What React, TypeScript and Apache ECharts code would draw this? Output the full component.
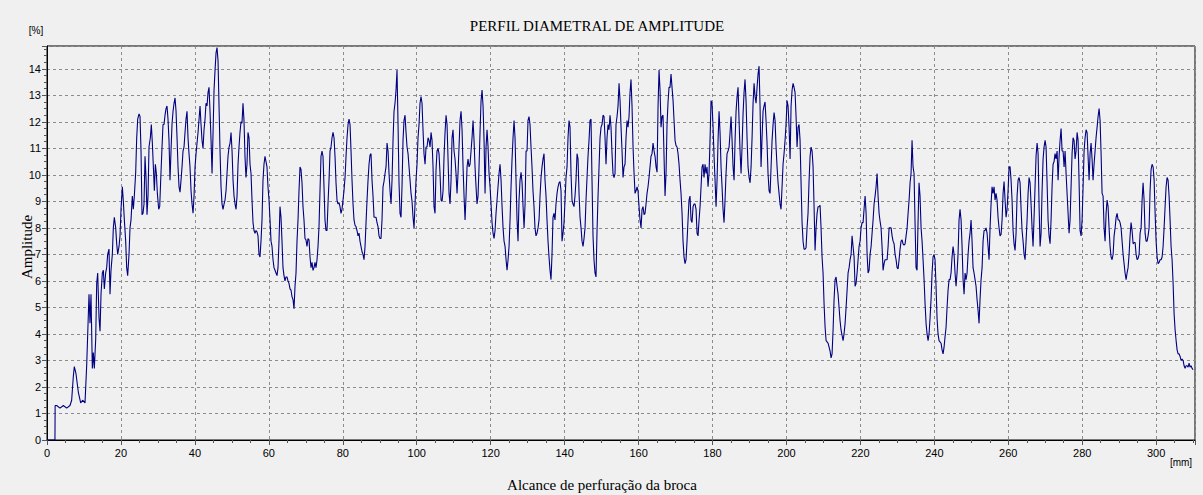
import React, { useEffect, useRef } from "react";
import * as echarts from "echarts";

const CHART_TITLE = "PERFIL DIAMETRAL DE AMPLITUDE";
const Y_TITLE = "Amplitude";
const X_TITLE = "Alcance de perfuração da broca";
const Y_UNIT = "[%]";
const X_UNIT = "[mm]";

const X_MIN = 0;
const X_MAX = 310.5;
const X_STEP = 20;
const Y_MIN = 0;
const Y_MAX = 14.86;
const Y_STEP = 1;

// distance along the bore [mm]
const distanceMm: number[] = [
  0, 2.15, 2.2, 2.61, 3.52, 4.42, 5.32, 6.22, 6.67, 7.12, 7.39, 7.84, 8.48, 9.11, 9.65, 10.28, 10.73, 11.36, 11.63, 11.9,
  12.26, 12.53, 12.8, 13.17, 13.44, 13.71, 14.07, 14.34, 14.61, 14.97, 15.24, 15.51, 15.87, 16.14, 16.41, 16.77, 17.04,
  17.31, 17.67, 17.94, 18.21, 18.58, 18.85, 19.12, 19.48, 19.75, 20.02, 20.38, 20.65, 20.92, 21.28, 21.55, 21.82, 22.18,
  22.45, 22.72, 23.08, 23.35, 23.62, 23.99, 24.26, 24.53, 24.89, 25.16, 25.43, 25.7,
  25.97, 26.24, 26.51, 26.78, 27.05, 27.32, 27.59, 27.95, 28.22, 28.49, 28.77, 29.04, 29.31, 29.58, 29.85, 30.21, 30.48,
  30.75, 31.11, 31.38, 31.65, 31.92, 32.19, 32.46, 32.73, 33.0, 33.27, 33.54, 33.81, 34.09, 34.36, 34.63, 34.9, 35.17,
  35.44, 35.71, 35.98, 36.25, 36.52, 36.79, 37.06, 37.33, 37.6, 37.87, 38.14, 38.41, 38.68, 38.96, 39.23, 39.5, 39.77,
  40.04, 40.31, 40.58, 40.85, 41.12, 41.39, 41.66, 41.93, 42.2, 42.47, 42.74, 43.01, 43.28, 43.55, 43.82, 44.09, 44.37,
  44.64, 44.91, 45.18, 45.45, 45.72, 45.99, 46.26, 46.53, 46.8, 47.07, 47.34, 47.61, 47.88, 48.15, 48.42, 48.69, 48.96,
  49.24, 49.51, 49.78, 50.05, 50.32, 50.59, 50.86, 51.13, 51.4, 51.67,
  51.93, 52.2, 52.47, 52.74, 53.01, 53.28, 53.55, 53.82, 54.09, 54.36, 54.64, 54.91, 55.18, 55.45, 55.72, 55.99, 56.26,
  56.53, 56.8, 57.07, 57.34, 57.61, 57.88, 58.15, 58.42, 58.69, 58.96, 59.23, 59.5, 59.77, 60.05, 60.32, 60.59, 60.86,
  61.13, 61.4, 61.67, 61.94, 62.21, 62.48, 62.75, 63.02, 63.29, 63.56, 63.83, 64.1, 64.37, 64.64, 64.91, 65.18, 65.46,
  65.73, 66.0, 66.27, 66.54, 66.81, 67.08, 67.35, 67.62, 67.89, 68.16, 68.43, 68.7, 68.97, 69.24, 69.51, 69.78, 70.05,
  70.32, 70.59, 70.87, 71.14, 71.41, 71.68, 71.95, 72.22, 72.49, 72.76, 73.03, 73.3, 73.57, 73.84, 74.11, 74.38, 74.65,
  74.92, 75.19, 75.46, 75.73, 76.0, 76.28, 76.55, 76.82, 77.09, 77.36, 77.63,
  77.9, 78.17, 78.44, 78.71, 78.98, 79.25, 79.52, 79.79, 80.06, 80.33, 80.61, 80.88, 81.15, 81.42, 81.69, 81.96, 82.23,
  82.5, 82.77, 83.04, 83.31, 83.58, 83.85, 84.12, 84.39, 84.66, 84.93, 85.2, 85.47, 85.74, 86.02, 86.29, 86.56, 86.83,
  87.1, 87.37, 87.64, 87.91, 88.18, 88.45, 88.72, 88.99, 89.26, 89.53, 89.8, 90.07, 90.34, 90.61, 90.88, 91.15, 91.43,
  91.7, 91.97, 92.24, 92.51, 92.78, 93.05, 93.32, 93.59, 93.86, 94.13, 94.4, 94.67, 94.94, 95.21, 95.48, 95.75, 96.02,
  96.29, 96.56, 96.84, 97.11, 97.38, 97.65, 97.92, 98.19, 98.46, 98.73, 99.0, 99.27, 99.54, 99.81, 100.08, 100.35,
  100.62, 100.89, 101.16, 101.43, 101.7, 101.97, 102.25, 102.52, 102.79, 103.06, 103.33, 103.6,
  103.87, 104.14, 104.41, 104.68, 104.95, 105.22, 105.49, 105.76, 106.03, 106.3, 106.58, 106.85, 107.12, 107.39, 107.66,
  107.93, 108.2, 108.47, 108.74, 109.01, 109.28, 109.55, 109.82, 110.09, 110.36, 110.63, 110.9, 111.17, 111.44, 111.71,
  111.99, 112.26, 112.53, 112.8, 113.07, 113.34, 113.61, 113.88, 114.15, 114.42, 114.69, 114.96, 115.23, 115.5, 115.77,
  116.04, 116.31, 116.58, 116.85, 117.12, 117.4, 117.67, 117.94, 118.21, 118.48, 118.75, 119.02, 119.29, 119.56, 119.83,
  120.1, 120.37, 120.64, 120.91, 121.18, 121.45, 121.72, 121.99, 122.26, 122.53, 122.81, 123.08, 123.35, 123.62, 123.89,
  124.16, 124.43, 124.7, 124.97, 125.24, 125.51, 125.78, 126.05, 126.32, 126.59, 126.86, 127.13, 127.4, 127.67, 127.94,
  128.22, 128.49, 128.76, 129.03, 129.3, 129.57,
  129.83, 130.1, 130.37, 130.64, 130.91, 131.18, 131.45, 131.72, 131.99, 132.26, 132.54, 132.81, 133.08, 133.35, 133.62,
  133.89, 134.16, 134.43, 134.7, 134.97, 135.24, 135.51, 135.78, 136.05, 136.32, 136.59, 136.86, 137.13, 137.4, 137.67,
  137.95, 138.22, 138.49, 138.76, 139.03, 139.3, 139.57, 139.84, 140.11, 140.38, 140.65, 140.92, 141.19, 141.46, 141.73,
  142.0, 142.27, 142.54, 142.81, 143.08, 143.36, 143.63, 143.9, 144.17, 144.44, 144.71, 144.98, 145.25, 145.52, 145.79,
  146.06, 146.33, 146.6, 146.87, 147.14, 147.41, 147.68, 147.95, 148.22, 148.49, 148.77, 149.04, 149.31, 149.58, 149.85,
  150.12, 150.39, 150.66, 150.93, 151.2, 151.47, 151.74, 152.01, 152.28, 152.55, 152.82, 153.09, 153.36, 153.63, 153.9,
  154.18, 154.45, 154.72, 154.99, 155.26, 155.53,
  155.8, 156.07, 156.34, 156.61, 156.88, 157.15, 157.42, 157.69, 157.96, 158.23, 158.51, 158.78, 159.05, 159.32, 159.59,
  159.86, 160.13, 160.4, 160.67, 160.94, 161.21, 161.48, 161.75, 162.02, 162.29, 162.56, 162.83, 163.1, 163.37, 163.64,
  163.92, 164.19, 164.46, 164.73, 165.0, 165.27, 165.54, 165.81, 166.08, 166.35, 166.62, 166.89, 167.16, 167.43, 167.7,
  167.97, 168.24, 168.51, 168.78, 169.05, 169.33, 169.6, 169.87, 170.14, 170.41, 170.68, 170.95, 171.22, 171.49, 171.76,
  172.03, 172.3, 172.57, 172.84, 173.11, 173.38, 173.65, 173.92, 174.19, 174.46, 174.74, 175.01, 175.28, 175.55, 175.82,
  176.09, 176.36, 176.63, 176.9, 177.17, 177.44, 177.71, 177.98, 178.25, 178.52, 178.79, 179.06, 179.33, 179.6, 179.87,
  180.15, 180.42, 180.69, 180.96, 181.23, 181.5,
  181.77, 182.04, 182.31, 182.58, 182.85, 183.12, 183.39, 183.66, 183.93, 184.2, 184.48, 184.75, 185.02, 185.29, 185.56,
  185.83, 186.1, 186.37, 186.64, 186.91, 187.18, 187.45, 187.72, 187.99, 188.26, 188.53, 188.8, 189.07, 189.34, 189.61,
  189.89, 190.16, 190.43, 190.7, 190.97, 191.24, 191.51, 191.78, 192.05, 192.32, 192.59, 192.86, 193.13, 193.4, 193.67,
  193.94, 194.21, 194.48, 194.75, 195.02, 195.3, 195.57, 195.84, 196.11, 196.38, 196.65, 196.92, 197.19, 197.46, 197.73,
  198.0, 198.27, 198.54, 198.81, 199.08, 199.35, 199.62, 199.89, 200.16, 200.43, 200.71, 200.98, 201.25, 201.52, 201.79,
  202.06, 202.33, 202.6, 202.87, 203.14, 203.41, 203.68, 203.95, 204.22, 204.49, 204.76, 205.03, 205.3, 205.57, 205.84,
  206.12, 206.39, 206.66, 206.93, 207.2, 207.47,
  207.74, 208.01, 208.28, 208.55, 208.82, 209.09, 209.36, 209.63, 209.9, 210.17, 210.45, 210.72, 210.99, 211.26, 211.53,
  211.8, 212.07, 212.34, 212.61, 212.88, 213.15, 213.42, 213.69, 213.96, 214.23, 214.5, 214.77, 215.04, 215.31, 215.58,
  215.86, 216.13, 216.4, 216.67, 216.94, 217.21, 217.48, 217.75, 218.02, 218.29, 218.56, 218.83, 219.1, 219.37, 219.64,
  219.91, 220.18, 220.45, 220.72, 220.99, 221.27, 221.54, 221.81, 222.08, 222.35, 222.62, 222.89, 223.16, 223.43, 223.7,
  223.97, 224.24, 224.51, 224.78, 225.05, 225.32, 225.59, 225.86, 226.13, 226.4, 226.68, 226.95, 227.22, 227.49, 227.76,
  228.03, 228.3, 228.57, 228.84, 229.11, 229.38, 229.65, 229.92, 230.19, 230.46, 230.73, 231.0, 231.27, 231.54, 231.81,
  232.09, 232.36, 232.63, 232.9, 233.17, 233.44,
  233.7, 233.97, 234.24, 234.51, 234.78, 235.05, 235.32, 235.59, 235.86, 236.13, 236.41, 236.68, 236.95, 237.22, 237.49,
  237.76, 238.03, 238.3, 238.57, 238.84, 239.11, 239.38, 239.65, 239.92, 240.19, 240.46, 240.73, 241.0, 241.27, 241.54,
  241.82, 242.09, 242.36, 242.63, 242.9, 243.17, 243.44, 243.71, 243.98, 244.25, 244.52, 244.79, 245.06, 245.33, 245.6,
  245.87, 246.14, 246.41, 246.68, 246.95, 247.23, 247.5, 247.77, 248.04, 248.31, 248.58, 248.85, 249.12, 249.39, 249.66,
  249.93, 250.2, 250.47, 250.74, 251.01, 251.28, 251.55, 251.82, 252.09, 252.36, 252.64, 252.91, 253.18, 253.45, 253.72,
  253.99, 254.26, 254.53, 254.8, 255.07, 255.34, 255.61, 255.88, 256.15, 256.42, 256.69, 256.96, 257.23, 257.5, 257.77,
  258.05, 258.32, 258.59, 258.86, 259.13, 259.4,
  259.67, 259.94, 260.21, 260.48, 260.75, 261.02, 261.29, 261.56, 261.83, 262.1, 262.38, 262.65, 262.92, 263.19, 263.46,
  263.73, 264.0, 264.27, 264.54, 264.81, 265.08, 265.35, 265.62, 265.89, 266.16, 266.43, 266.7, 266.97, 267.24, 267.51,
  267.79, 268.06, 268.33, 268.6, 268.87, 269.14, 269.41, 269.68, 269.95, 270.22, 270.49, 270.76, 271.03, 271.3, 271.57,
  271.84, 272.11, 272.38, 272.65, 272.92, 273.2, 273.47, 273.74, 274.01, 274.28, 274.55, 274.82, 275.09, 275.36, 275.63,
  275.9, 276.17, 276.44, 276.71, 276.98, 277.25, 277.52, 277.79, 278.06, 278.33, 278.61, 278.88, 279.15, 279.42, 279.69,
  279.96, 280.23, 280.5, 280.77, 281.04, 281.31, 281.58, 281.85, 282.12, 282.39, 282.66, 282.93, 283.2, 283.47, 283.74,
  284.02, 284.29, 284.56, 284.83, 285.1, 285.37,
  285.64, 285.91, 286.18, 286.45, 286.72, 286.99, 287.26, 287.53, 287.8, 288.07, 288.35, 288.62, 288.89, 289.16, 289.43,
  289.7, 289.97, 290.24, 290.51, 290.78, 291.05, 291.32, 291.59, 291.86, 292.13, 292.4, 292.67, 292.94, 293.21, 293.48,
  293.76, 294.03, 294.3, 294.57, 294.84, 295.11, 295.38, 295.65, 295.92, 296.19, 296.46, 296.73, 297.0, 297.27, 297.54,
  297.81, 298.08, 298.35, 298.62, 298.89, 299.17, 299.44, 299.71, 299.98, 300.25, 300.52, 300.79, 301.06, 301.33, 301.6,
  301.87, 302.14, 302.41, 302.68, 302.95, 303.22, 303.49, 303.76, 304.03, 304.3, 304.58, 304.85, 305.12, 305.39, 305.66,
  305.93, 306.2, 306.47, 306.74, 307.01, 307.28, 307.55, 307.82, 308.09, 308.36, 308.63, 308.9, 309.17, 309.44, 309.71,
  309.99,
];

// diametral amplitude [%]
const amplitudePct: number[] = [
  0, 0, 1.3, 1.3, 1.2, 1.3, 1.2, 1.3, 1.5, 2.4, 2.77, 2.5, 1.8, 1.4, 1.5, 1.4, 2.8, 5.5, 4.4, 5.5, 2.7, 3.3, 2.7, 3.8,
  5.9, 6.3, 4.6, 4.1, 5.5, 6.3, 6.4, 5.7, 6.3, 6.5, 7.0, 7.2, 5.5, 6.4, 7.0, 8.0, 8.4, 8.0, 7.4, 7.0, 7.3, 7.7, 8.7,
  9.55, 9.0, 8.3, 7.5, 6.5, 6.2, 7.0, 8.0, 8.3, 9.2, 8.7, 9.2, 10.1, 11.4, 12.1, 12.3, 12.2, 10.9, 8.5,
  8.55, 8.9, 10.7, 9.9, 8.5, 9.2, 11.05, 11.4, 11.9, 11.2, 10.3, 9.4, 10.4, 10.05, 9.3, 8.7, 8.8, 9.8, 11.05, 11.9, 11.9,
  12.25, 12.5, 12.6, 12.1, 11.3, 9.8, 10.9, 11.9, 12.4, 12.7, 12.9, 12.4, 11.4, 10.3, 9.55, 9.35, 9.8, 10.3, 10.9, 11.05,
  11.6, 12.1, 12.4, 11.4, 10.8, 10.3, 9.4, 8.9, 8.55, 9.2, 10.3, 10.8, 11.2, 11.6, 12.1, 12.6, 11.9, 11.3, 11.0, 11.7,
  12.1, 12.7, 12.6, 13.1, 13.3, 12.4, 11.3, 10.05, 11.6, 13.2, 13.95, 14.6, 14.8, 14.3, 12.6, 10.9, 9.55, 8.9, 8.7, 8.9,
  9.05, 9.4, 10.05, 10.7, 11.05, 11.2, 11.6, 10.9, 9.8, 9.2, 8.9, 8.7, 9.2, 10.4,
  11.05, 11.6, 12.0, 11.95, 12.7, 12.05, 10.7, 9.9, 10.4, 11.6, 11.4, 10.4, 10.05, 9.05, 8.2, 7.9, 7.8, 7.9, 7.85, 7.7,
  7.0, 6.9, 7.5, 8.3, 9.8, 10.4, 10.7, 10.5, 10.3, 9.55, 9.05, 8.3, 7.5, 7.3, 6.8, 6.5, 6.4, 6.3, 6.2, 6.5, 7.5, 8.8, 8.4,
  7.5, 6.5, 6.2, 6.0, 6.15, 6.15, 6.0, 5.9, 5.7, 5.65, 5.4, 5.3, 4.95, 5.8, 6.3, 7.5, 8.3, 9.4, 10.3, 10.2, 9.7, 8.8, 8.3,
  7.6, 7.55, 7.3, 7.6, 7.55, 6.9, 6.5, 6.7, 6.4, 6.5, 6.7, 6.5, 6.8, 7.3, 8.05, 9.4, 10.7, 10.9, 10.7, 9.55, 8.3, 7.9,
  7.9, 8.9, 9.8, 10.9, 11.05, 11.4, 11.6, 11.4,
  10.7, 9.7, 9.05, 8.9, 8.95, 8.8, 8.55, 8.7, 9.05, 9.4, 9.9, 10.7, 11.4, 11.9, 12.1, 11.9, 10.9, 9.8, 8.9, 8.3, 8.1,
  8.05, 7.9, 7.7, 7.8, 7.5, 7.3, 7.1, 7.0, 6.8, 7.3, 8.2, 9.05, 9.8, 10.4, 10.75, 10.8, 9.8, 9.2, 8.4, 8.4, 8.4, 8.2, 8.05,
  7.7, 7.6, 7.6, 8.3, 9.55, 9.75, 10.05, 10.3, 11.2, 10.9, 10.05, 9.4, 8.9, 9.8, 11.3, 12.4, 12.7, 13.2, 13.95, 11.95,
  9.7, 8.55, 8.4, 9.55, 11.3, 12.05, 12.25, 11.6, 11.05, 10.8, 10.3, 9.8, 9.3, 9.0, 8.4, 8.0, 8.9, 9.8, 10.4, 11.4, 11.9,
  12.7, 12.95, 12.7, 11.7, 10.8, 10.4, 11.05, 11.05, 11.4, 11.3, 11.05,
  11.6, 11.3, 10.3, 8.8, 8.55, 10.2, 10.9, 11.0, 10.8, 10.05, 9.05, 9.0, 9.4, 10.7, 11.6, 12.25, 11.9, 10.6, 9.3, 8.9,
  9.8, 11.4, 11.7, 10.9, 10.6, 10.05, 9.3, 10.05, 11.05, 12.05, 12.4, 11.7, 10.3, 9.2, 8.3, 9.2, 10.3, 10.6, 10.3, 10.4,
  10.9, 11.4, 12.05, 11.3, 10.3, 9.55, 8.9, 9.2, 10.3, 11.6, 12.8, 13.2, 12.6, 11.3, 9.3, 11.05, 11.7, 11.05, 10.05, 9.55,
  8.9, 8.2, 7.8, 7.6, 7.9, 8.55, 9.05, 9.55, 10.05, 10.4, 9.8, 8.8, 8.0, 7.5, 7.3, 6.8, 6.4, 6.8, 7.3, 8.3, 9.55, 10.6,
  11.4, 12.05, 11.4, 9.8, 8.3, 7.5, 9.05, 9.8, 10.1, 9.7, 8.8, 8.0, 8.9, 10.9,
  10.9, 12.05, 12.2, 11.9, 11.05, 10.3, 9.4, 8.8, 8.0, 7.7, 7.8, 8.0, 8.3, 9.2, 9.9, 10.3, 10.6, 10.8, 9.8, 9.2, 8.3, 7.5,
  6.9, 6.4, 6.05, 7.0, 8.4, 8.55, 8.3, 8.9, 9.3, 9.55, 9.7, 9.75, 9.4, 7.5, 7.8, 8.2, 9.05, 9.9, 10.3, 11.4, 12.05, 11.8,
  10.05, 9.05, 8.9, 8.8, 9.2, 9.8, 10.8, 10.6, 9.3, 8.4, 8.0, 7.5, 7.3, 7.6, 8.0, 9.05, 9.9, 10.7, 11.3, 12.05, 12.1, 9.8,
  7.7, 6.8, 6.3, 6.15, 7.9, 9.2, 10.3, 11.4, 11.8, 11.9, 12.25, 12.2, 11.4, 10.4, 11.4, 11.9, 11.7, 12.25, 11.8, 10.8,
  10.05, 9.9, 10.05, 11.9, 12.2, 12.6, 13.45, 12.8, 11.8, 10.9,
  9.9, 10.3, 10.4, 11.4, 12.05, 11.8, 12.2, 13.1, 13.6, 12.6, 11.05, 10.05, 9.3, 9.4, 9.55, 9.4, 8.8, 8.3, 8.0, 8.7, 8.8,
  8.5, 8.55, 8.9, 9.3, 9.55, 9.9, 10.3, 10.7, 10.8, 11.2, 10.9, 10.7, 10.3, 10.1, 12.6, 13.95, 13.2, 11.8, 12.2, 12.25,
  10.7, 9.2, 10.05, 11.9, 12.75, 13.3, 13.3, 13.8, 13.3, 12.8, 12.05, 11.3, 11.1, 11.05, 10.8, 10.4, 9.8, 9.3, 8.55, 7.5,
  6.9, 6.65, 6.8, 7.5, 8.3, 9.05, 9.2, 8.3, 8.2, 8.8, 8.9, 8.9, 8.7, 7.8, 7.7, 8.3, 8.8, 9.55, 10.3, 10.4, 9.9, 10.4,
  10.05, 10.3, 9.55, 10.05, 11.3, 12.8, 12.7, 11.8, 10.7, 9.8, 8.8, 9.8, 11.3,
  12.4, 11.6, 10.3, 9.55, 8.7, 8.2, 9.05, 10.05, 10.8, 10.9, 11.05, 11.6, 12.2, 11.3, 10.3, 9.8, 11.3, 12.4, 12.95, 13.3,
  12.05, 10.9, 10.05, 11.05, 12.3, 13.1, 13.6, 12.8, 11.4, 10.3, 9.9, 9.7, 10.3, 11.4, 12.7, 13.45, 12.95, 12.7, 13.3,
  13.8, 14.1, 12.6, 10.3, 11.4, 12.4, 12.6, 12.75, 12.05, 11.2, 10.05, 9.4, 9.3, 10.3, 11.3, 11.9, 12.35, 12.05, 11.05,
  10.3, 9.7, 9.3, 8.9, 8.7, 9.55, 10.4, 10.8, 11.3, 11.9, 12.8, 12.6, 11.8, 10.6, 12.6, 13.2, 13.45, 13.3, 13.1, 12.2,
  11.05, 11.8, 11.9, 11.3, 9.7, 8.2, 7.5, 7.2, 7.2, 7.25, 8.0, 8.55, 9.8, 10.7, 11.05, 10.9, 10.3, 8.8,
  7.15, 8.0, 8.55, 8.8, 8.8, 8.85, 8.0, 6.9, 6.3, 5.15, 4.25, 3.75, 3.7, 3.65, 3.5, 3.35, 3.1, 3.25, 4.15, 5.3, 6.05,
  6.15, 5.8, 5.5, 5.0, 4.5, 4.15, 3.95, 3.75, 4.0, 4.4, 5.0, 5.65, 6.3, 6.5, 6.8, 7.0, 7.7, 7.3, 6.9, 5.8, 5.9, 6.3, 6.8,
  7.3, 7.5, 8.0, 8.2, 8.2, 8.7, 9.2, 8.55, 7.0, 6.3, 6.4, 7.0, 7.3, 7.8, 8.3, 8.9, 9.2, 9.55, 10.05, 9.2, 8.55, 8.25, 8.0,
  7.3, 6.4, 6.65, 6.8, 6.8, 6.8, 7.3, 8.0, 8.0, 8.0, 7.7, 7.5, 7.4, 7.0, 6.8, 6.5, 6.45, 6.8, 7.2, 7.5, 7.55, 7.4, 7.35,
  7.4, 7.7, 8.0, 8.55, 9.05, 9.7,
  10.05, 11.3, 10.3, 10.05, 8.2, 6.5, 6.4, 8.2, 9.7, 9.2, 8.0, 7.5, 6.8, 6.05, 5.15, 4.4, 4.0, 3.75, 4.0, 4.6, 5.3, 6.3,
  6.9, 7.0, 6.8, 5.8, 4.6, 4.0, 3.75, 3.7, 3.65, 3.4, 3.25, 3.5, 3.9, 4.25, 5.0, 5.65, 6.05, 6.05, 6.3, 6.9, 7.3, 7.0,
  6.3, 5.8, 6.3, 7.0, 8.3, 8.7, 8.3, 7.3, 6.05, 5.5, 6.3, 6.05, 6.3, 7.0, 7.5, 7.8, 8.3, 7.5, 6.5, 6.3, 6.05, 5.8, 5.3,
  4.9, 4.4, 5.3, 6.05, 6.5, 7.5, 7.9, 7.9, 8.0, 7.8, 7.3, 6.8, 8.0, 8.9, 9.55, 9.3, 9.55, 9.05, 9.3, 9.05, 8.4, 8.0, 7.7,
  7.75, 8.3, 9.3, 9.75, 9.05, 8.4,
  8.7, 9.4, 10.3, 10.3, 9.8, 9.05, 7.9, 7.4, 7.15, 7.8, 9.2, 9.8, 9.9, 9.7, 8.7, 7.9, 7.5, 7.0, 6.8, 7.5, 8.3, 9.3, 9.9,
  9.7, 8.9, 8.0, 7.3, 8.4, 9.55, 10.7, 11.2, 10.8, 8.8, 7.3, 7.8, 9.4, 10.6, 11.05, 11.3, 11.05, 9.7, 8.3, 7.7, 7.4, 8.3,
  9.55, 10.4, 10.5, 10.8, 10.6, 10.9, 9.8, 10.7, 11.3, 11.75, 10.9, 10.9, 10.3, 10.9, 10.05, 9.3, 8.55, 7.8, 8.3, 9.55,
  10.8, 11.4, 11.3, 10.6, 10.9, 11.6, 11.3, 9.7, 7.9, 7.7, 8.3, 9.55, 10.9, 11.4, 11.7, 11.6, 10.7, 9.8, 10.8, 11.2, 10.6,
  9.8, 10.4, 10.9, 11.4, 11.8, 12.2, 12.5, 12.05, 10.8, 9.3,
  9.2, 8.0, 7.5, 8.55, 9.05, 8.8, 8.0, 7.3, 6.9, 6.8, 7.0, 7.7, 8.0, 8.4, 8.55, 8.3, 8.3, 8.2, 8.0, 7.5, 7.0, 6.65, 6.3,
  6.05, 6.3, 6.5, 7.0, 7.7, 8.2, 7.9, 7.4, 7.45, 7.45, 7.0, 6.8, 6.85, 7.0, 7.8, 8.0, 9.05, 9.7, 9.05, 7.8, 7.5, 7.5, 7.7,
  8.0, 9.4, 10.2, 10.4, 10.3, 9.8, 8.55, 7.5, 6.9, 6.65, 6.7, 6.8, 6.8, 6.9, 7.3, 8.0, 8.8, 9.55, 9.9, 9.8, 9.2, 8.3,
  7.3, 6.8, 5.9, 4.75, 4.15, 3.75, 3.4, 3.25, 3.25, 3.15, 3.0, 3.05, 3.0, 2.8, 2.7, 2.8, 2.8, 2.75, 2.9, 2.75, 2.8, 2.7,
  2.65,
];

const BG = "#f0f0f0";
const LINE_COLOR = "#000080";
const SERIF = "'Liberation Serif', 'Times New Roman', serif";
const SANS = "'Liberation Sans', Arial, sans-serif";

export default function App() {
  const ref = useRef<HTMLDivElement>(null);

  useEffect(() => {
    if (!ref.current) return;
    const chart = echarts.init(ref.current, null, { renderer: "svg" });
    const n = Math.min(distanceMm.length, amplitudePct.length);
    const points: [number, number][] = [];
    for (let i = 0; i < n; i++) points.push([distanceMm[i], amplitudePct[i]]);

    const gridLine = { show: true, lineStyle: { color: "#8c8c8c", type: [3, 3] as any, width: 1 } };

    chart.setOption({
      animation: false,
      backgroundColor: BG,
      grid: {
        left: 47,
        top: 46,
        width: 1148,
        height: 394,
        show: true,
        borderColor: "#000",
        borderWidth: 1,
        backgroundColor: "transparent",
      },
      xAxis: {
        type: "value",
        min: X_MIN,
        max: X_MAX,
        interval: X_STEP,
        axisLine: { show: true, onZero: false, lineStyle: { color: "#000", width: 1 } },
        axisTick: { show: true, length: 5, lineStyle: { color: "#555" } },
        minorTick: { show: true, splitNumber: 4, length: 3, lineStyle: { color: "#555" } },
        splitLine: gridLine,
        axisLabel: { color: "#000", fontSize: 11, fontFamily: SANS, margin: 7, showMaxLabel: false },
      },
      yAxis: {
        type: "value",
        min: Y_MIN,
        max: Y_MAX,
        interval: Y_STEP,
        axisLine: { show: true, lineStyle: { color: "#000", width: 1 } },
        axisTick: { show: true, length: 5, lineStyle: { color: "#555" } },
        minorTick: { show: true, splitNumber: 4, length: 3, lineStyle: { color: "#555" } },
        splitLine: gridLine,
        axisLabel: { color: "#000", fontSize: 11, fontFamily: SANS, margin: 6, showMaxLabel: false },
      },
      series: [
        {
          type: "line",
          data: points,
          showSymbol: false,
          symbol: "none",
          lineStyle: { color: LINE_COLOR, width: 1.1 },
          silent: true,
        },
      ],
      graphic: [
        {
          type: "text",
          x: 597,
          y: 26,
          style: { text: CHART_TITLE, font: `15px ${SERIF}`, fill: "#000", align: "center", verticalAlign: "middle" },
        },
        {
          type: "text",
          x: 36,
          y: 30,
          style: { text: Y_UNIT, font: `10px ${SANS}`, fill: "#000", align: "center", verticalAlign: "middle" },
        },
        {
          type: "text",
          x: 27,
          y: 247,
          rotation: Math.PI / 2,
          style: { text: Y_TITLE, font: `15px ${SERIF}`, fill: "#000", align: "center", verticalAlign: "middle" },
        },
        {
          type: "text",
          x: 1181,
          y: 462,
          style: { text: X_UNIT, font: `10px ${SANS}`, fill: "#000", align: "center", verticalAlign: "middle" },
        },
        {
          type: "text",
          x: 602,
          y: 485,
          style: { text: X_TITLE, font: `15px ${SERIF}`, fill: "#000", align: "center", verticalAlign: "middle" },
        },
      ],
    });
    return () => chart.dispose();
  }, []);

  return (
    <div
      ref={ref}
      style={{ position: "fixed", left: 0, top: 0, width: 1203, height: 495, background: BG }}
    />
  );
}
